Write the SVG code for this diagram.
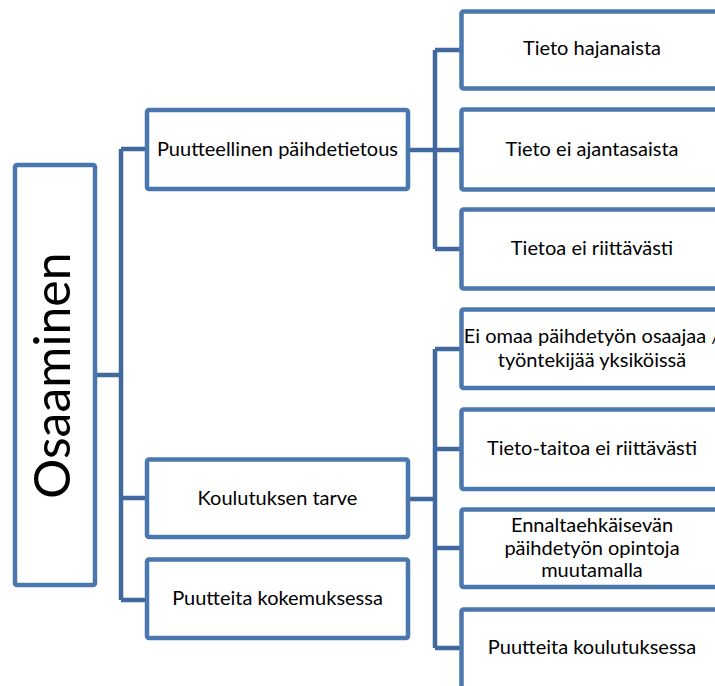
<svg xmlns="http://www.w3.org/2000/svg" width="715" height="686" viewBox="0 0 715 686">
<style>
.box{fill:#fff;stroke:#4a77ad;stroke-width:4.5}
.lbl{font-family:Lato,"Open Sans","Liberation Sans",sans-serif;font-size:20px;fill:#000;text-anchor:middle}
.con{fill:none;stroke:#41699d;stroke-width:4.5;stroke-linejoin:round}
</style>
<rect width="715" height="686" fill="#fff"/>
<g id="connectors">
<path class="con" d="M97 375H121M121 149V600M121 149H146M121 498H146M121 600H146"/>
<path class="con" d="M410 150H435M435 50V249M435 50H461M435 150H461M435 249H461"/>
<path class="con" d="M410 499H435M435 349V648M435 349H461M435 449H461M435 548H461M435 648H461"/>
</g>
<g id="n-root">
<rect class="box" x="15" y="165" width="80" height="420" rx="2"/>
<text transform="translate(70,375.5) rotate(-90)" style="font-family:Lato,'Open Sans','Liberation Sans',sans-serif;font-size:50px;text-anchor:middle">Osaaminen</text>
</g>
<g id="n-puutteellinen">
<rect class="box" x="147" y="110" width="261" height="79" rx="2"/>
<text class="lbl" x="277.5" y="156">Puutteellinen päihdetietous</text>
</g>
<g id="n-koulutuksen">
<rect class="box" x="147" y="459.5" width="261" height="77.5" rx="2"/>
<text class="lbl" x="277.5" y="505.3">Koulutuksen tarve</text>
</g>
<g id="n-kokemuksessa">
<rect class="box" x="147" y="559.5" width="261" height="78.5" rx="2"/>
<text class="lbl" x="277.5" y="605.3">Puutteita kokemuksessa</text>
</g>
<g id="n-hajanaista">
<rect class="box" x="461.5" y="11.5" width="262" height="77" rx="2"/>
<text class="lbl" x="592" y="55">Tieto hajanaista</text>
</g>
<g id="n-ajantasaista">
<rect class="box" x="461.5" y="109.5" width="262" height="80" rx="2"/>
<text class="lbl" x="592" y="156">Tieto ei ajantasaista</text>
</g>
<g id="n-riittavasti">
<rect class="box" x="461.5" y="209.5" width="262" height="79" rx="2"/>
<text class="lbl" x="592" y="255">Tietoa ei riittävästi</text>
</g>
<g id="n-osaajaa">
<rect class="box" x="461.5" y="309.5" width="262" height="78.5" rx="2"/>
<text class="lbl" x="592" y="343.3">Ei omaa päihdetyön osaajaa /</text>
<text class="lbl" x="592" y="367">työntekijää yksiköissä</text>
</g>
<g id="n-tietotaitoa">
<rect class="box" x="461.5" y="409.5" width="262" height="79.5" rx="2"/>
<text class="lbl" x="592" y="455.3">Tieto-taitoa ei riittävästi</text>
</g>
<g id="n-ennaltaehkaisevan">
<rect class="box" x="461.5" y="509.5" width="262" height="77.5" rx="2"/>
<text class="lbl" x="592" y="532.3">Ennaltaehkäisevän</text>
<text class="lbl" x="592" y="555">päihdetyön opintoja</text>
<text class="lbl" x="592" y="577.3">muutamalla</text>
</g>
<g id="n-koulutuksessa">
<rect class="box" x="461.5" y="609.5" width="262" height="80" rx="2"/>
<text class="lbl" x="592" y="654">Puutteita koulutuksessa</text>
</g>
</svg>
